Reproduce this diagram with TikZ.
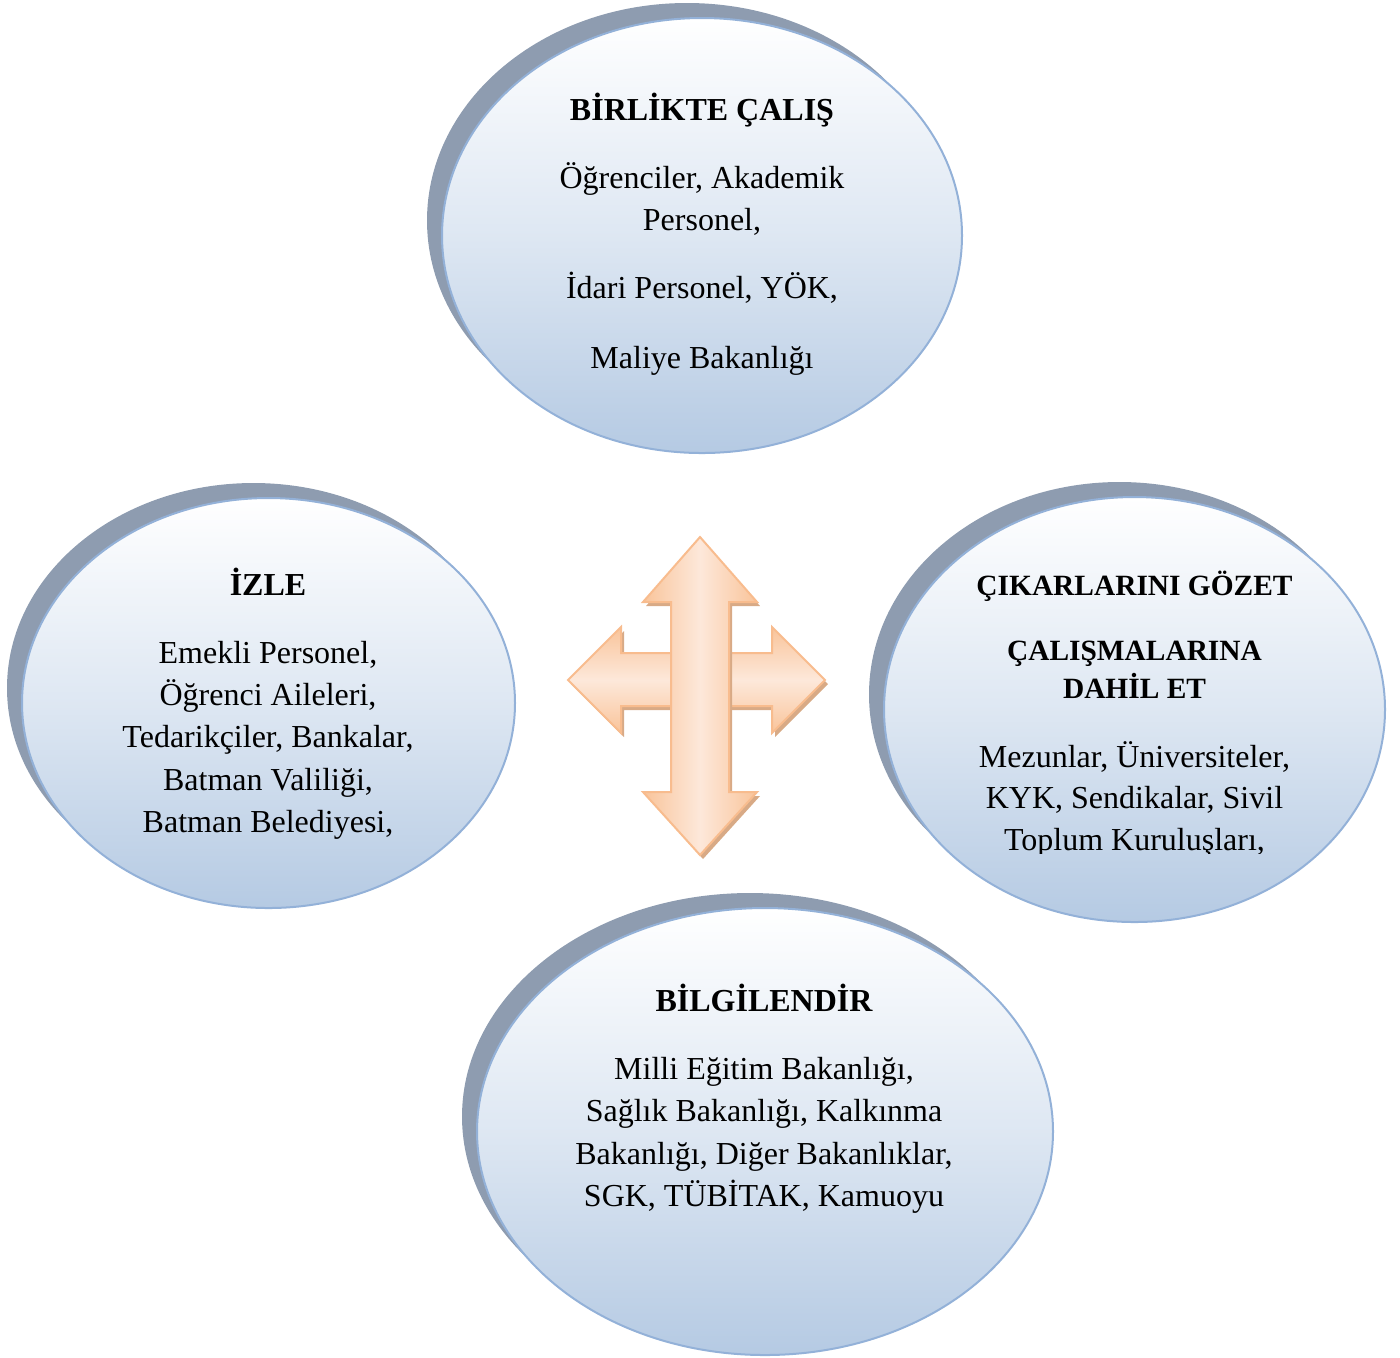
\documentclass[tikz,border=0pt]{standalone}
\usepackage{fontspec}
\setmainfont{Liberation Serif}
\usetikzlibrary{shapes.geometric}
\definecolor{shadowc}{HTML}{8E9CB0}
\definecolor{bubtop}{HTML}{FFFFFF}
\definecolor{bubbot}{HTML}{B5CAE3}
\definecolor{bubline}{HTML}{93B1D8}
\definecolor{arrline}{HTML}{F8BC8E}
\definecolor{arrdark}{HTML}{F9C49A}
\definecolor{arrlight}{HTML}{FDE8DA}
\definecolor{arrshadow}{HTML}{D8AA86}
\tikzset{
  bubshadow/.style={ellipse, inner sep=0pt, outer sep=0pt, fill=shadowc},
  bubble/.style={ellipse, inner sep=0pt, outer sep=0pt, draw=bubline, line width=1pt,
     top color=bubtop, bottom color=bubbot, middle color=bubtop!55!bubbot},
  txt/.style={anchor=base, inner sep=0pt, font=\fontsize{16pt}{21pt}\selectfont},
  ttl/.style={anchor=base, inner sep=0pt, font=\bfseries\fontsize{16pt}{21pt}\selectfont},
  sttl/.style={anchor=base, inner sep=0pt, font=\bfseries\fontsize{14.7pt}{19pt}\selectfont},
}
\begin{document}
\begin{tikzpicture}[x=0.5pt,y=-0.5pt]
\useasboundingbox (0,0) rectangle (1400,1357);
% ---------- top ellipse
\node[bubshadow, minimum width=260pt, minimum height=217.5pt] (topS) at (687,220.5) {};
\node[bubble, minimum width=260pt, minimum height=217.5pt] (topB) at (702,235.5) {};
\node[ttl] (t0) at (702,120) {BİRLİKTE ÇALIŞ};
\node[txt] (t1) at (702,188) {Öğrenciler, Akademik};
\node[txt] (t2) at (702,230) {Personel,};
\node[txt] (t3) at (702,298) {İdari Personel, YÖK,};
\node[txt] (t4) at (702,368) {Maliye Bakanlığı};
% ---------- left ellipse
\node[bubshadow, minimum width=246.5pt, minimum height=205pt] (leftS) at (253.5,688) {};
\node[bubble, minimum width=246.5pt, minimum height=205pt] (leftB) at (268.5,703) {};
\node[ttl] (l0) at (268,595) {İZLE};
\node[txt] (l1) at (268,663) {Emekli Personel,};
\node[txt] (l2) at (268,705) {Öğrenci Aileleri,};
\node[txt] (l3) at (268,747) {Tedarikçiler, Bankalar,};
\node[txt] (l4) at (268,790) {Batman Valiliği,};
\node[txt] (l5) at (268,832) {Batman Belediyesi,};
% ---------- right ellipse
\node[bubshadow, minimum width=250.5pt, minimum height=212.5pt] (rightS) at (1119.5,694.5) {};
\node[bubble, minimum width=250.5pt, minimum height=212.5pt] (rightB) at (1134.5,709.5) {};
\node[sttl] (r0) at (1134.5,595) {ÇIKARLARINI GÖZET};
\node[sttl] (r1) at (1134.5,660) {ÇALIŞMALARINA};
\node[sttl] (r2) at (1134.5,698) {DAHİL ET};
\node[txt] (r3) at (1134.5,767) {Mezunlar, Üniversiteler,};
\node[txt] (r4) at (1134.5,808) {KYK, Sendikalar, Sivil};
\begin{scope}
\clip (900,800) rectangle (1380,853);
\node[txt] (r5) at (1134.5,850) {Toplum Kuruluşları,};
\end{scope}
% ---------- bottom ellipse
\node[bubshadow, minimum width=288pt, minimum height=223.5pt] (botS) at (750,1116.5) {};
\node[bubble, minimum width=288pt, minimum height=223.5pt] (botB) at (765,1131.5) {};
\node[ttl] (b0) at (764,1011) {BİLGİLENDİR};
\node[txt] (b1) at (764,1079) {Milli Eğitim Bakanlığı,};
\node[txt] (b2) at (764,1121) {Sağlık Bakanlığı, Kalkınma};
\node[txt] (b3) at (764,1164) {Bakanlığı, Diğer Bakanlıklar,};
\node[txt] (b4) at (764,1206) {SGK, TÜBİTAK, Kamuoyu};
% ---------- four-way arrow
\begin{scope}[shift={(3,4)}]
\fill[arrshadow] (568,680) -- (621,627) -- (621,653) -- (772,653) -- (772,627) -- (825,680)
   -- (772,733) -- (772,706) -- (621,706) -- (621,733) -- cycle;
\end{scope}
\path[draw=arrline, line width=1pt, top color=arrdark, bottom color=arrdark, middle color=arrlight, line join=miter]
   (568,680) -- (621,627) -- (621,653) -- (772,653) -- (772,627) -- (825,680)
   -- (772,733) -- (772,706) -- (621,706) -- (621,733) -- cycle;
\begin{scope}[shift={(3,4)}]
\fill[arrshadow] (700,537) -- (757,602) -- (729,602) -- (729,792) -- (757,792) -- (700,855)
   -- (643,792) -- (671,792) -- (671,602) -- (643,602) -- cycle;
\end{scope}
\path[draw=arrline, line width=1pt, left color=arrdark, right color=arrdark, middle color=arrlight, line join=miter]
   (700,537) -- (757,602) -- (729,602) -- (729,792) -- (757,792) -- (700,855)
   -- (643,792) -- (671,792) -- (671,602) -- (643,602) -- cycle;
\end{tikzpicture}
\end{document}
